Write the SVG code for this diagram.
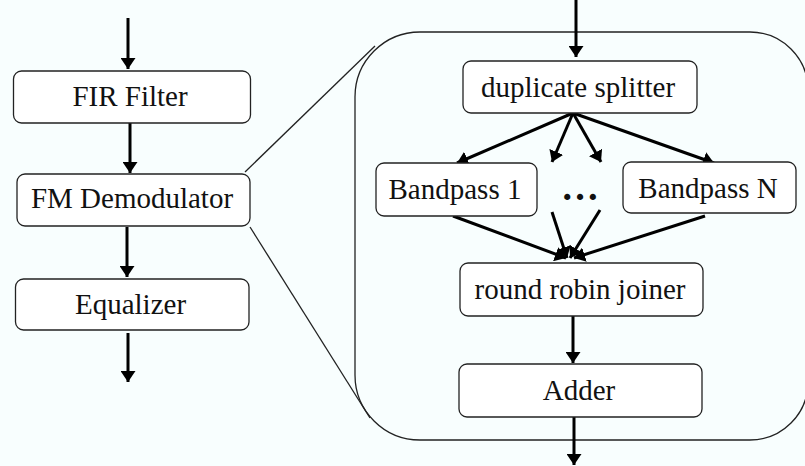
<svg xmlns="http://www.w3.org/2000/svg" width="805" height="466" viewBox="0 0 805 466">
  <defs>
    <marker id="head" viewBox="0 0 11 15" refX="11" refY="7.5" markerWidth="11" markerHeight="15" markerUnits="userSpaceOnUse" orient="auto">
      <path d="M0,0 L11,7.5 L0,15 Z" fill="#000"/>
    </marker>
    <style>
      .box { fill: #ffffff; stroke: #222222; stroke-width: 1.3; }
      .label { font-family: "Liberation Serif", "Times New Roman", serif; font-size: 29px; fill: #111; text-anchor: middle; }
      .edge { stroke: #000; stroke-width: 3; fill: none; marker-end: url(#head); }
      .thin { stroke: #222; stroke-width: 1.3; fill: none; }
    </style>
  </defs>

  <rect x="0" y="0" width="805" height="466" fill="#f8fefe"/>

  <!-- expanded view outline and zoom guide lines -->
  <g id="detail-frame">
    <path class="thin" d="M420,32 H750 A58,58 0 0 1 808,90 V382 A58,58 0 0 1 750,440 H420 A65,65 0 0 1 355,375 V97 A65,65 0 0 1 420,32 Z"/>
    <line class="thin" x1="245" y1="172" x2="375" y2="46"/>
    <line class="thin" x1="250" y1="227" x2="370" y2="418"/>
  </g>

  <!-- connectors -->
  <g id="connectors">
    <line class="edge" x1="128" y1="18" x2="128" y2="69"/>
    <line class="edge" x1="130" y1="123" x2="130" y2="173"/>
    <line class="edge" x1="127" y1="227" x2="127" y2="277"/>
    <line class="edge" x1="128" y1="333" x2="128" y2="382"/>

    <line class="edge" x1="576" y1="0" x2="576" y2="57"/>
    <line class="edge" x1="573" y1="113" x2="457" y2="163"/>
    <line class="edge" x1="573" y1="113" x2="552" y2="162"/>
    <line class="edge" x1="573" y1="113" x2="601" y2="162"/>
    <line class="edge" x1="573" y1="113" x2="714" y2="163"/>

    <line class="edge" x1="453" y1="216" x2="566" y2="258"/>
    <line class="edge" x1="552" y1="212" x2="567" y2="258"/>
    <line class="edge" x1="600" y1="210" x2="570" y2="258"/>
    <line class="edge" x1="705" y1="216" x2="574" y2="258"/>

    <line class="edge" x1="573" y1="316" x2="573" y2="363"/>
    <line class="edge" x1="574" y1="417" x2="574" y2="465"/>
  </g>

  <g id="fir-filter">
    <rect class="box" x="13.5" y="71" width="237" height="52" rx="8"/>
    <text class="label" x="130" y="106">FIR Filter</text>
  </g>
  <g id="fm-demodulator">
    <rect class="box" x="17" y="174" width="233" height="52" rx="8"/>
    <text class="label" x="132" y="208">FM Demodulator</text>
  </g>
  <g id="equalizer">
    <rect class="box" x="15.5" y="279" width="233.5" height="51" rx="8"/>
    <text class="label" x="130.5" y="314">Equalizer</text>
  </g>

  <g id="duplicate-splitter">
    <rect class="box" x="463" y="61" width="234" height="52" rx="8"/>
    <text class="label" x="578" y="97">duplicate splitter</text>
  </g>
  <g id="bandpass-1">
    <rect class="box" x="376" y="163" width="161" height="53" rx="8"/>
    <text class="label" x="455" y="199">Bandpass 1</text>
  </g>
  <g id="ellipsis">
    <text class="label" x="580" y="200" style="font-size:38px;font-weight:bold">…</text>
  </g>
  <g id="bandpass-n">
    <rect class="box" x="623" y="162" width="173" height="51" rx="8"/>
    <text class="label" x="708" y="198">Bandpass N</text>
  </g>
  <g id="round-robin-joiner">
    <rect class="box" x="460" y="263" width="243" height="53" rx="8"/>
    <text class="label" x="580" y="299">round robin joiner</text>
  </g>
  <g id="adder">
    <rect class="box" x="459" y="364" width="243" height="53" rx="8"/>
    <text class="label" x="579" y="400">Adder</text>
  </g>
</svg>
